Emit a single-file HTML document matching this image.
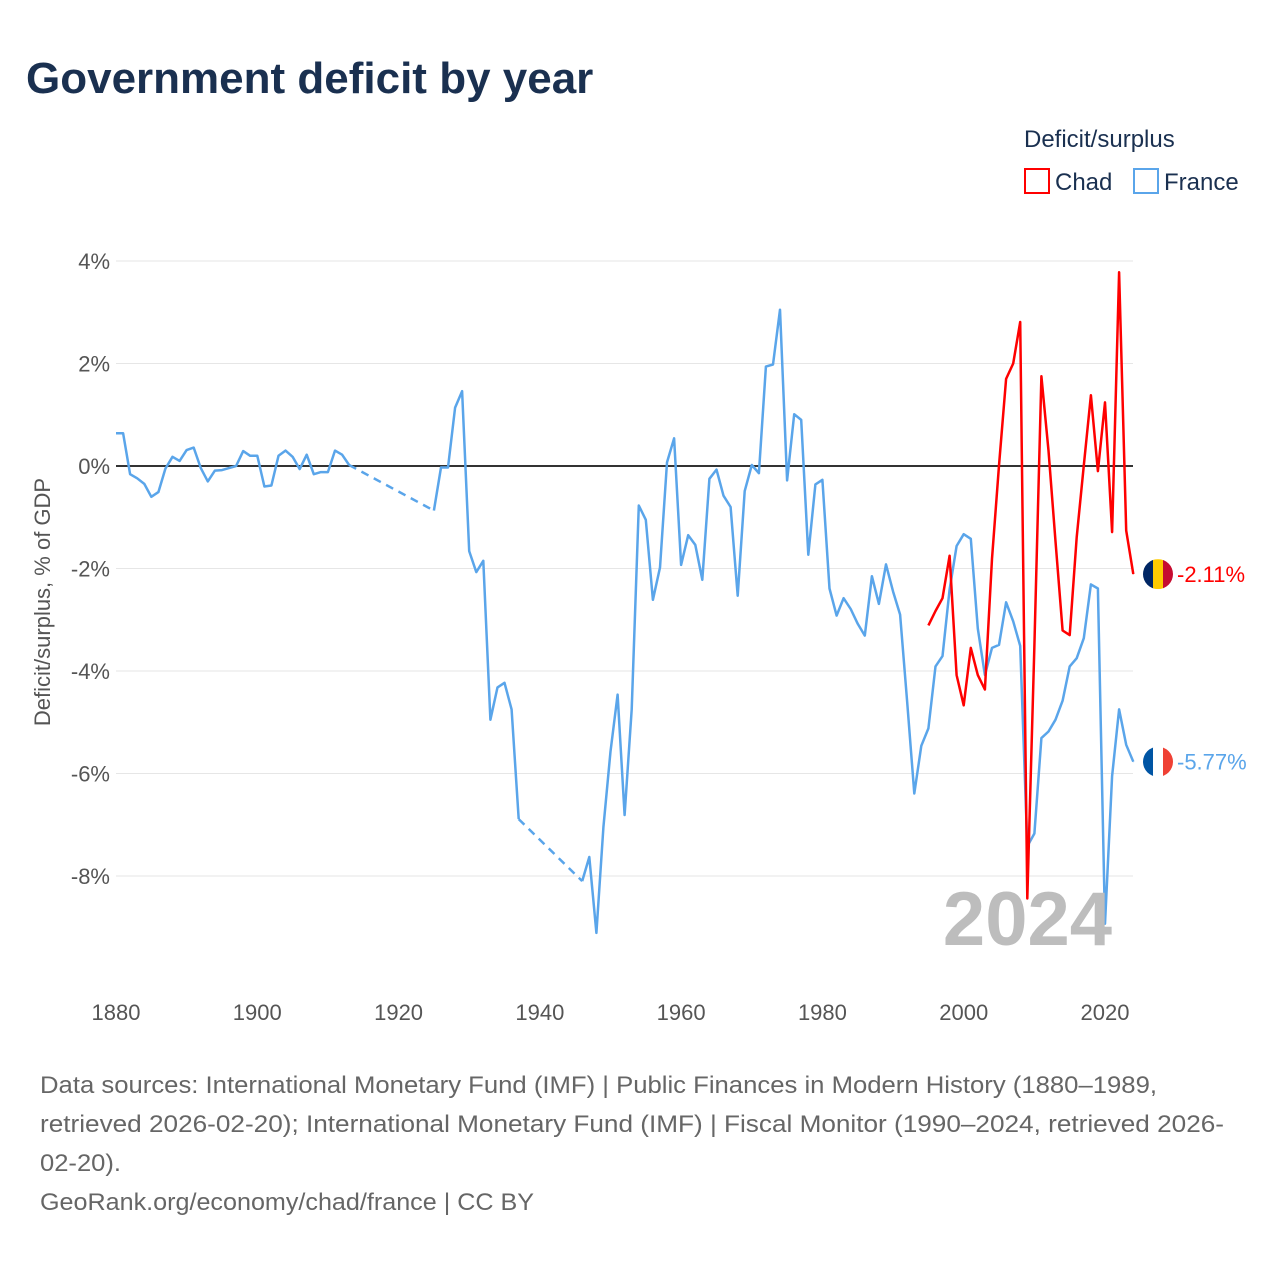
<!DOCTYPE html>
<html><head><meta charset="utf-8">
<style>
body{margin:0;background:#fff;font-family:"Liberation Sans",sans-serif;}
svg text{font-family:"Liberation Sans",sans-serif;}
</style></head>
<body>
<svg id="chart" width="1280" height="1280" viewBox="0 0 1280 1280" xmlns="http://www.w3.org/2000/svg">
  <text x="26" y="93" font-size="44" font-weight="bold" fill="#1a3050">Government deficit by year</text>
  <g>
    <text x="1024" y="147" font-size="24" fill="#1a3050">Deficit/surplus</text>
    <rect x="1025" y="169" width="24" height="24" fill="none" stroke="#ff0000" stroke-width="2"/>
    <text x="1055" y="190" font-size="24" fill="#1a3050">Chad</text>
    <rect x="1134" y="169" width="24" height="24" fill="none" stroke="#5aa5ea" stroke-width="2"/>
    <text x="1164" y="190" font-size="24" fill="#1a3050">France</text>
  </g>
  <text transform="translate(50,602) rotate(-90)" text-anchor="middle" font-size="22" fill="#555">Deficit/surplus, % of GDP</text>
  <g id="grid"></g>
  <g id="series"></g>
  <text x="1112" y="945" text-anchor="end" font-size="76" font-weight="bold" fill="#bdbdbd">2024</text>
  <g id="ends"></g>
  <g font-size="24" fill="#666">
    <text x="40" y="1093" textLength="1117" lengthAdjust="spacingAndGlyphs">Data sources: International Monetary Fund (IMF) | Public Finances in Modern History (1880–1989,</text>
    <text x="40" y="1132" textLength="1184" lengthAdjust="spacingAndGlyphs">retrieved 2026-02-20); International Monetary Fund (IMF) | Fiscal Monitor (1990–2024, retrieved 2026-</text>
    <text x="40" y="1171" textLength="81" lengthAdjust="spacingAndGlyphs">02-20).</text>
    <text x="40" y="1210" textLength="494" lengthAdjust="spacingAndGlyphs">GeoRank.org/economy/chad/france | CC BY</text>
  </g>
</svg>
<script>
const yTicks = [4, 2, 0, -2, -4, -6, -8];
const xTicks = [1880, 1900, 1920, 1940, 1960, 1980, 2000, 2020];
const franceYears = [1880,1881,1882,1883,1884,1885,1886,1887,1888,1889,1890,1891,1892,1893,1894,1895,1896,1897,1898,1899,1900,1901,1902,1903,1904,1905,1906,1907,1908,1909,1910,1911,1912,1913,1925,1926,1927,1928,1929,1930,1931,1932,1933,1934,1935,1936,1937,1946,1947,1948,1949,1950,1951,1952,1953,1954,1955,1956,1957,1958,1959,1960,1961,1962,1963,1964,1965,1966,1967,1968,1969,1970,1971,1972,1973,1974,1975,1976,1977,1978,1979,1980,1981,1982,1983,1984,1985,1986,1987,1988,1989,1990,1991,1992,1993,1994,1995,1996,1997,1998,1999,2000,2001,2002,2003,2004,2005,2006,2007,2008,2009,2010,2011,2012,2013,2014,2015,2016,2017,2018,2019,2020,2021,2022,2023,2024];
const franceValues = [0.64,0.64,-0.16,-0.24,-0.35,-0.6,-0.51,-0.05,0.18,0.1,0.31,0.36,-0.04,-0.3,-0.09,-0.08,-0.04,0,0.29,0.2,0.2,-0.4,-0.38,0.2,0.3,0.18,-0.06,0.22,-0.16,-0.12,-0.12,0.3,0.22,0.02,-0.87,-0.03,-0.03,1.14,1.46,-1.66,-2.07,-1.85,-4.95,-4.32,-4.23,-4.75,-6.89,-8.1,-7.63,-9.11,-7.05,-5.57,-4.46,-6.81,-4.75,-0.77,-1.05,-2.61,-1.98,0.07,0.54,-1.93,-1.35,-1.54,-2.22,-0.25,-0.07,-0.58,-0.8,-2.53,-0.49,0.02,-0.14,1.94,1.98,3.05,-0.28,1.01,0.9,-1.73,-0.36,-0.27,-2.39,-2.92,-2.58,-2.79,-3.08,-3.31,-2.15,-2.69,-1.92,-2.45,-2.9,-4.61,-6.39,-5.46,-5.12,-3.91,-3.71,-2.41,-1.56,-1.33,-1.42,-3.17,-4.08,-3.55,-3.49,-2.66,-3.03,-3.51,-7.42,-7.17,-5.31,-5.18,-4.95,-4.58,-3.91,-3.75,-3.36,-2.31,-2.39,-8.93,-6.05,-4.75,-5.44,-5.77];
const chadYears = [1995,1996,1997,1998,1999,2000,2001,2002,2003,2004,2005,2006,2007,2008,2009,2010,2011,2012,2013,2014,2015,2016,2017,2018,2019,2020,2021,2022,2023,2024];
const chadValues = [-3.11,-2.83,-2.58,-1.75,-4.08,-4.67,-3.55,-4.08,-4.36,-1.81,0.01,1.7,2.0,2.81,-8.44,-3.5,1.75,0.3,-1.47,-3.21,-3.3,-1.39,0.01,1.38,-0.1,1.24,-1.29,3.78,-1.26,-2.11];

const NS = 'http://www.w3.org/2000/svg';
const X0 = 116, X1 = 1133;
function xs(y){ return 116 + (y - 1880) * (1105 - 116) / 140; }
function ys(v){ return 466 - v * 51.25; }
function mk(tag, attrs, parent){ const e = document.createElementNS(NS, tag); for (const k in attrs) e.setAttribute(k, attrs[k]); parent.appendChild(e); return e; }

const grid = document.getElementById('grid');
yTicks.forEach(t => {
  const l = mk('line', {x1: X0, x2: X1, y1: ys(t), y2: ys(t), stroke: t === 0 ? '#333' : '#e6e6e6', 'stroke-width': t === 0 ? 2 : 1}, grid);
  
  
  const tx = mk('text', {x: 110, y: ys(t) + 8, 'text-anchor': 'end', 'font-size': 22, fill: '#555'}, grid);
  tx.textContent = t + '%';
  
  
});
xTicks.forEach(t => {
  const tx = mk('text', {x: xs(t), y: 1020, 'text-anchor': 'middle', 'font-size': 22, fill: '#555'}, grid);
  tx.textContent = t;
  
  
});

const series = document.getElementById('series');
function draw(years, vals, color, name){
  let seg = [];
  const segs = [];
  for (let i = 0; i < years.length; i++){
    if (i > 0 && years[i] - years[i-1] > 1){
      segs.push({pts: seg, dash: false});
      segs.push({pts: [[years[i-1], vals[i-1]], [years[i], vals[i]]], dash: true});
      seg = [];
    }
    seg.push([years[i], vals[i]]);
  }
  segs.push({pts: seg, dash: false});
  segs.forEach(s => {
    const p = mk('polyline', {points: s.pts.map(d => xs(d[0]).toFixed(1) + ',' + ys(d[1]).toFixed(1)).join(' '), fill: 'none', stroke: color, 'stroke-width': 2.5, 'stroke-linejoin': 'round'}, series);
    if (s.dash) p.setAttribute('stroke-dasharray', '8 6');
    
    
  });
  const lx = xs(years[years.length-1]), ly = ys(vals[vals.length-1]);
  const ext = mk('line', {x1: lx, x2: X1, y1: ly, y2: ly, stroke: color, 'stroke-width': 1.5}, series);
  
  
}
draw(franceYears, franceValues, '#5aa5ea', 'france');
draw(chadYears, chadValues, '#ff0000', 'chad');

const ends = document.getElementById('ends');
function flag(v, cols, color, name){
  const cy = ys(v), cx = 1158, r = 15;
  const g = mk('g', {}, ends);
  
  
  const id = 'clip-' + name;
  const cp = mk('clipPath', {id: id}, g);
  mk('circle', {cx: cx, cy: cy, r: r}, cp);
  cols.forEach((c, i) => mk('rect', {x: cx - r + i * 2 * r / 3, y: cy - r, width: 2 * r / 3 + 0.5, height: 2 * r, fill: c, 'clip-path': 'url(#' + id + ')'}, g));
  const t = mk('text', {x: 1177, y: cy + 8, 'font-size': 22, fill: color}, ends);
  t.textContent = v.toFixed(2) + '%';
  
  
}
flag(chadValues[chadValues.length-1], ['#002664', '#fecb00', '#c60c30'], '#ff0000', 'chad');
flag(franceValues[franceValues.length-1], ['#0055a4', '#ffffff', '#ef4135'], '#5aa5ea', 'france');
</script>
</body></html>
